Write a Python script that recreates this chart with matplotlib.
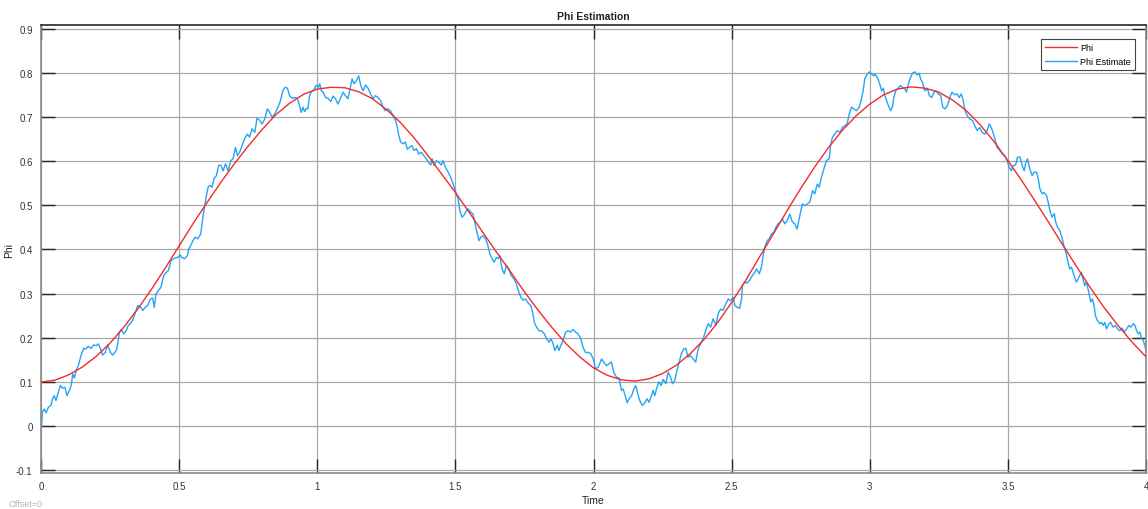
import matplotlib
matplotlib.use("Agg")
import matplotlib.pyplot as plt

plt.rcParams['font.family'] = ['Liberation Sans', 'DejaVu Sans']

phi_t = [0.00, 0.05, 0.10, 0.15, 0.20, 0.25, 0.30, 0.35, 0.40, 0.45,
         0.50, 0.55, 0.60, 0.65, 0.70, 0.75, 0.80, 0.85, 0.90, 0.95,
         1.00, 1.05, 1.10, 1.15, 1.20, 1.25, 1.30, 1.35, 1.40, 1.45,
         1.50, 1.55, 1.60, 1.65, 1.70, 1.75, 1.80, 1.85, 1.90, 1.95,
         2.00, 2.05, 2.10, 2.15, 2.20, 2.25, 2.30, 2.35, 2.40, 2.45,
         2.50, 2.55, 2.60, 2.65, 2.70, 2.75, 2.80, 2.85, 2.90, 2.95,
         3.00, 3.05, 3.10, 3.15, 3.20, 3.25, 3.30, 3.35, 3.40, 3.45,
         3.50, 3.55, 3.60, 3.65, 3.70, 3.75, 3.80, 3.85, 3.90, 3.95, 4.00]
phi = [0.100, 0.104, 0.116, 0.134, 0.158, 0.188, 0.224, 0.265, 0.310, 0.358,
       0.408, 0.458, 0.505, 0.551, 0.594, 0.634, 0.671, 0.705, 0.731, 0.751,
       0.763, 0.767, 0.766, 0.757, 0.741, 0.717, 0.688, 0.653, 0.613, 0.571,
       0.529, 0.484, 0.438, 0.393, 0.349, 0.304, 0.262, 0.223, 0.187, 0.157,
       0.132, 0.115, 0.105, 0.102, 0.107, 0.119, 0.138, 0.164, 0.196, 0.235,
       0.280, 0.329, 0.382, 0.434, 0.487, 0.538, 0.586, 0.630, 0.669, 0.702,
       0.729, 0.750, 0.763, 0.768, 0.765, 0.756, 0.738, 0.714, 0.682, 0.644,
       0.601, 0.556, 0.508, 0.459, 0.409, 0.360, 0.312, 0.267, 0.227, 0.190, 0.157]

# estimate (noisy trace)
est_t = [0.002, 0.005, 0.012, 0.018, 0.027, 0.036, 0.042, 0.048, 0.054, 0.063,
         0.070, 0.078, 0.087, 0.094, 0.103, 0.109, 0.115, 0.121, 0.127, 0.135,
         0.145, 0.154, 0.163, 0.171, 0.181, 0.191, 0.199, 0.208, 0.215, 0.223,
         0.233, 0.241, 0.251, 0.259, 0.268, 0.275, 0.284, 0.290, 0.299, 0.308,
         0.316, 0.326, 0.334, 0.344, 0.350, 0.360, 0.368, 0.377, 0.386, 0.396,
         0.404, 0.410, 0.416, 0.425, 0.434, 0.444, 0.453, 0.461, 0.471, 0.483,
         0.495, 0.504,
         0.508, 0.520, 0.530, 0.535, 0.542, 0.550, 0.558, 0.568, 0.578, 0.587,
         0.593, 0.599, 0.605, 0.611, 0.619, 0.626, 0.635, 0.643, 0.651, 0.659,
         0.668, 0.677, 0.687, 0.695, 0.704, 0.711, 0.719, 0.728, 0.738, 0.747,
         0.755, 0.764, 0.774, 0.782, 0.792, 0.800, 0.810, 0.819, 0.828, 0.836,
         0.846, 0.855, 0.865, 0.876, 0.884, 0.892, 0.900, 0.909, 0.918, 0.928,
         0.936, 0.942, 0.948, 0.954, 0.960, 0.966, 0.972, 0.978, 0.988, 0.997,
         1.005,
         1.009, 1.015, 1.021, 1.030, 1.039, 1.049, 1.057, 1.066, 1.075, 1.085,
         1.094, 1.102, 1.111, 1.120, 1.126, 1.133, 1.142, 1.150, 1.157, 1.166,
         1.175, 1.184, 1.193, 1.202, 1.210, 1.220, 1.229, 1.238, 1.246, 1.256,
         1.265, 1.274, 1.283, 1.290, 1.295, 1.302, 1.311, 1.319, 1.326, 1.335,
         1.343, 1.350, 1.359, 1.367, 1.377, 1.386, 1.395, 1.403, 1.411, 1.416,
         1.423, 1.431, 1.440, 1.449, 1.455, 1.464, 1.474, 1.483, 1.492, 1.500,
         1.510, 1.516,
         1.524, 1.532, 1.540, 1.546, 1.556, 1.564, 1.570, 1.577, 1.585, 1.592,
         1.600, 1.609, 1.616, 1.625, 1.633, 1.640, 1.649, 1.655, 1.661, 1.669,
         1.677, 1.685, 1.693, 1.702, 1.712, 1.721, 1.730, 1.737, 1.745, 1.754,
         1.763, 1.773, 1.778, 1.786, 1.794, 1.803, 1.812, 1.822, 1.830, 1.839,
         1.846, 1.854, 1.860, 1.869, 1.875, 1.882, 1.890, 1.899, 1.908, 1.917,
         1.926, 1.935, 1.944, 1.954, 1.962, 1.971, 1.981, 1.990, 1.999, 2.007,
         2.017,
         2.029, 2.037, 2.047, 2.056, 2.065, 2.073, 2.083, 2.093, 2.101, 2.107,
         2.113, 2.122, 2.129, 2.138, 2.146, 2.153, 2.162, 2.170, 2.177, 2.186,
         2.194, 2.201, 2.210, 2.216, 2.222, 2.228, 2.236, 2.245, 2.252, 2.262,
         2.270, 2.279, 2.286, 2.294, 2.302, 2.310, 2.318, 2.327, 2.334, 2.342,
         2.351, 2.361, 2.370, 2.379, 2.387, 2.397, 2.406, 2.415, 2.424, 2.433,
         2.443, 2.451, 2.460, 2.469, 2.479, 2.488, 2.496, 2.506,
         2.512, 2.520, 2.529, 2.536, 2.539, 2.548, 2.556, 2.565, 2.575, 2.584,
         2.590, 2.600, 2.608, 2.614, 2.620, 2.629, 2.636, 2.644, 2.653, 2.660,
         2.668, 2.677, 2.684, 2.692, 2.701, 2.710, 2.720, 2.729, 2.737, 2.747,
         2.756, 2.765, 2.774, 2.783, 2.793, 2.801, 2.810, 2.817, 2.825, 2.832,
         2.838, 2.843, 2.853, 2.858, 2.865, 2.873, 2.882, 2.892, 2.901, 2.910,
         2.918, 2.926, 2.934, 2.943, 2.952, 2.962, 2.970, 2.976, 2.982, 2.991,
         2.999, 3.006, 3.015,
         3.018, 3.027, 3.036, 3.043, 3.049, 3.055, 3.063, 3.070, 3.076, 3.083,
         3.087, 3.094, 3.103, 3.111, 3.119, 3.127, 3.133, 3.139, 3.145, 3.155,
         3.163, 3.172, 3.179, 3.184, 3.191, 3.199, 3.208, 3.216, 3.224, 3.233,
         3.240, 3.248, 3.257, 3.264, 3.273, 3.281, 3.290, 3.298, 3.308, 3.316,
         3.324, 3.331, 3.337, 3.345, 3.353, 3.362, 3.372, 3.380, 3.389, 3.398,
         3.407, 3.416, 3.425, 3.432, 3.437, 3.444, 3.453, 3.461, 3.471, 3.480,
         3.489, 3.497, 3.505,
         3.513, 3.519, 3.528, 3.535, 3.544, 3.552, 3.559, 3.564, 3.571, 3.580,
         3.588, 3.595, 3.604, 3.610, 3.616, 3.624, 3.631, 3.640, 3.646, 3.652,
         3.660, 3.668, 3.673, 3.680, 3.688, 3.697, 3.704, 3.713, 3.719, 3.724,
         3.730, 3.736, 3.742, 3.748, 3.754, 3.760, 3.766, 3.772, 3.778, 3.784,
         3.793, 3.800, 3.806, 3.812, 3.817, 3.824, 3.833, 3.839, 3.845, 3.851,
         3.857, 3.866, 3.872, 3.881, 3.889, 3.897, 3.905, 3.914, 3.921, 3.930,
         3.938, 3.945, 3.954, 3.960, 3.966, 3.972, 3.978, 3.984, 3.990, 3.996, 4.000]
est = [0.000, 0.032, 0.039, 0.030, 0.043, 0.047, 0.062, 0.069, 0.058, 0.077,
       0.092, 0.086, 0.088, 0.069, 0.081, 0.092, 0.118, 0.109, 0.126, 0.137,
       0.160, 0.176, 0.175, 0.181, 0.176, 0.184, 0.182, 0.186, 0.176, 0.161,
       0.167, 0.184, 0.167, 0.161, 0.167, 0.176, 0.213, 0.219, 0.209, 0.216,
       0.228, 0.234, 0.243, 0.262, 0.273, 0.270, 0.262, 0.269, 0.273, 0.288,
       0.290, 0.269, 0.299, 0.307, 0.314, 0.341, 0.348, 0.352, 0.375, 0.380,
       0.382, 0.388,
       0.382, 0.379, 0.386, 0.401, 0.409, 0.420, 0.428, 0.424, 0.435, 0.477,
       0.499, 0.522, 0.541, 0.545, 0.541, 0.560, 0.567, 0.590, 0.591, 0.578,
       0.594, 0.578, 0.601, 0.605, 0.631, 0.612, 0.620, 0.635, 0.652, 0.661,
       0.654, 0.673, 0.665, 0.697, 0.692, 0.684, 0.695, 0.718, 0.710, 0.699,
       0.707, 0.718, 0.733, 0.760, 0.767, 0.765, 0.748, 0.742, 0.744, 0.742,
       0.725, 0.710, 0.722, 0.712, 0.719, 0.718, 0.748, 0.756, 0.762, 0.772,
       0.767,
       0.775, 0.759, 0.756, 0.744, 0.742, 0.735, 0.747, 0.741, 0.729, 0.744,
       0.756, 0.748, 0.741, 0.767, 0.786, 0.775, 0.782, 0.793, 0.772, 0.759,
       0.772, 0.765, 0.752, 0.741, 0.748, 0.744, 0.737, 0.722, 0.714, 0.718,
       0.714, 0.703, 0.692, 0.676, 0.658, 0.643, 0.639, 0.643, 0.627, 0.632,
       0.635, 0.624, 0.628, 0.616, 0.620, 0.612, 0.605, 0.597, 0.591, 0.605,
       0.590, 0.601, 0.597, 0.591, 0.601, 0.586, 0.575, 0.563, 0.548, 0.533,
       0.514, 0.488,
       0.473, 0.478, 0.488, 0.492, 0.484, 0.480, 0.462, 0.443, 0.420, 0.428,
       0.431, 0.424, 0.413, 0.390, 0.379, 0.371, 0.382, 0.379, 0.386, 0.356,
       0.345, 0.364, 0.356, 0.341, 0.333, 0.322, 0.303, 0.292, 0.285, 0.288,
       0.279, 0.273, 0.262, 0.235, 0.224, 0.216, 0.216, 0.209, 0.198, 0.190,
       0.198, 0.186, 0.171, 0.183, 0.171, 0.183, 0.194, 0.213, 0.216, 0.213,
       0.219, 0.213, 0.209, 0.198, 0.179, 0.167, 0.167, 0.164, 0.152, 0.130,
       0.133,
       0.152, 0.145, 0.137, 0.141, 0.145, 0.122, 0.111, 0.109, 0.081, 0.084,
       0.073, 0.053, 0.062, 0.069, 0.084, 0.092, 0.069, 0.054, 0.047, 0.053,
       0.062, 0.054, 0.069, 0.081, 0.069, 0.084, 0.100, 0.092, 0.106, 0.096,
       0.122, 0.111, 0.096, 0.103, 0.126, 0.145, 0.164, 0.175, 0.176, 0.156,
       0.160, 0.152, 0.145, 0.175, 0.186, 0.198, 0.216, 0.232, 0.224, 0.243,
       0.228, 0.254, 0.265, 0.262, 0.277, 0.288, 0.284, 0.292,
       0.273, 0.269, 0.267, 0.288, 0.318, 0.326, 0.324, 0.330, 0.341, 0.348,
       0.356, 0.345, 0.360, 0.386, 0.405, 0.420, 0.424, 0.435, 0.439, 0.450,
       0.458, 0.462, 0.469, 0.458, 0.465, 0.480, 0.462, 0.458, 0.446, 0.477,
       0.503, 0.499, 0.503, 0.507, 0.533, 0.526, 0.548, 0.541, 0.563, 0.578,
       0.590, 0.601, 0.605, 0.635, 0.654, 0.661, 0.669, 0.665, 0.676, 0.680,
       0.684, 0.707, 0.722, 0.718, 0.714, 0.722, 0.741, 0.759, 0.786, 0.797,
       0.802, 0.797, 0.793,
       0.797, 0.790, 0.775, 0.759, 0.765, 0.748, 0.733, 0.722, 0.714, 0.725,
       0.744, 0.759, 0.765, 0.771, 0.767, 0.763, 0.756, 0.771, 0.786, 0.799,
       0.802, 0.795, 0.799, 0.786, 0.778, 0.759, 0.765, 0.748, 0.744, 0.756,
       0.759, 0.752, 0.748, 0.722, 0.718, 0.725, 0.744, 0.756, 0.750, 0.752,
       0.744, 0.752, 0.741, 0.714, 0.703, 0.695, 0.692, 0.680, 0.669, 0.676,
       0.665, 0.661, 0.669, 0.684, 0.680, 0.669, 0.650, 0.631, 0.624, 0.616,
       0.612, 0.601, 0.586,
       0.578, 0.590, 0.591, 0.609, 0.609, 0.590, 0.578, 0.594, 0.605, 0.582,
       0.567, 0.575, 0.575, 0.560, 0.537, 0.526, 0.529, 0.522, 0.507, 0.488,
       0.473, 0.481, 0.462, 0.450, 0.443, 0.424, 0.405, 0.386, 0.367, 0.356,
       0.360, 0.348, 0.337, 0.326, 0.333, 0.341, 0.348, 0.333, 0.318, 0.326,
       0.303, 0.281, 0.288, 0.273, 0.250, 0.239, 0.232, 0.235, 0.228, 0.235,
       0.220, 0.232, 0.235, 0.224, 0.228, 0.220, 0.216, 0.222, 0.213, 0.220,
       0.228, 0.224, 0.232, 0.228, 0.216, 0.209, 0.213, 0.198, 0.194, 0.182, 0.171]

fig = plt.figure(figsize=(11.48, 5.10), dpi=100)
ax = fig.add_axes([41/1148, 1 - 474/510, 1105/1148, 448/510])

ax.plot(phi_t, phi, color='#f32b2b', lw=1.0, label='Phi', zorder=3)
ax.plot(est_t, est, color='#24a4f6', lw=1.0, label='Phi Estimate', zorder=2)

ax.set_xlim(0, 4)
ax.set_ylim(-0.106, 0.908)
ax.set_xticks([0, 0.5, 1, 1.5, 2, 2.5, 3, 3.5, 4])
ax.set_xticklabels(['0', '0.5', '1', '1.5', '2', '2.5', '3', '3.5', '4'])
ax.set_yticks([-0.1, 0, 0.1, 0.2, 0.3, 0.4, 0.5, 0.6, 0.7, 0.8, 0.9])
ax.set_yticklabels(['-0.1', '0', '0.1', '0.2', '0.3', '0.4', '0.5', '0.6', '0.7', '0.8', '0.9'])

ax.grid(True, color='#a8a8a8', lw=0.9)
ax.tick_params(direction='in', length=10, width=1.0, color='#262626',
               labelsize=7, labelcolor='#333333', top=True, right=True, pad=6)
for s in ax.spines.values():
    s.set_color('#8a8a8a')
    s.set_linewidth(1.2)
ax.spines['top'].set_color('#262626')

ax.set_title('Phi Estimation', fontsize=7.5, fontweight='bold', color='#222222', pad=4)
ax.set_xlabel('Time', fontsize=7.5, color='#222222', labelpad=3)
ax.set_ylabel('Phi', fontsize=7.5, color='#222222')
ax.yaxis.set_label_coords(-0.0245, 0.5)

leg = ax.legend(loc='upper right', bbox_to_anchor=(0.990, 0.969), fontsize=6.5,
                fancybox=False, framealpha=1, edgecolor='#444444',
                handlelength=3.6, handletextpad=0.3, borderpad=0.45,
                labelspacing=0.55, borderaxespad=0)
leg.get_frame().set_linewidth(0.8)

fig.text(9/1148, 1 - 505/510, 'Offset=0', fontsize=6.5, color='#b4b4b4', va='center')

fig.savefig('out.png', dpi=100)
